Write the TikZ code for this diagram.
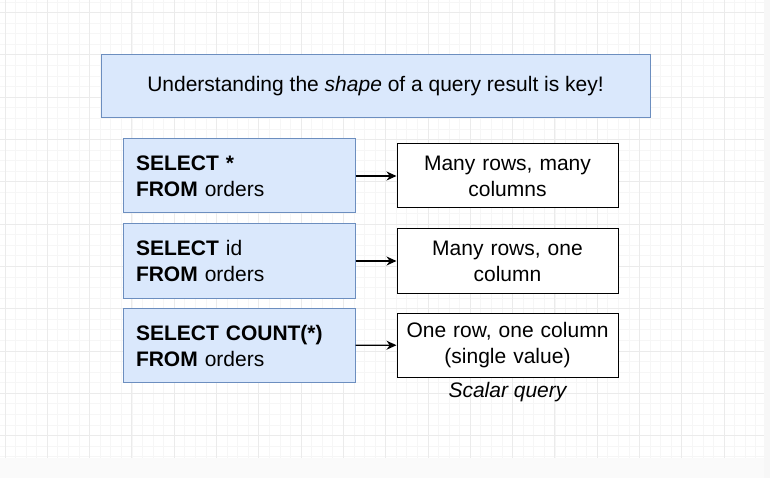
\documentclass[tikz,border=0pt]{standalone}
\usepackage{fontspec}
\setmainfont{Liberation Sans}
\usetikzlibrary{positioning,arrows.meta}
\definecolor{qfill}{HTML}{DAE8FC}
\definecolor{qline}{HTML}{6C8EBF}
\definecolor{gridmin}{HTML}{F6F6F6}
\definecolor{gridmaj}{HTML}{EBEBEB}
\newcommand{\taille}{\fontsize{21}{26}\selectfont}
\tikzset{
	query/.style={draw=qline, fill=qfill, minimum width=232pt, minimum height=74pt,
		text width=206pt, align=left, inner sep=0pt, font=\taille},
	result/.style={draw=black, fill=white, minimum width=221pt, minimum height=64pt,
		text width=210pt, align=center, inner sep=0pt, font=\taille},
	fleche/.style={draw=black, line width=1.2pt, -{Stealth[length=10pt,width=9pt]}}
}

\begin{document}
\begin{tikzpicture}[x=1pt, y=-1pt, line width=1pt]
\useasboundingbox (0,0) rectangle (770,478);
%Grid
	\foreach \k in {-2,...,72}
		\draw[gridmin, line width=0.6pt] (0,{12.5+10.575*\k}) -- (770,{12.5+10.575*\k});
	\foreach \k in {-70,...,6}
		\draw[gridmin, line width=0.6pt] ({724+10.575*\k},0) -- ({724+10.575*\k},478);
	\foreach \k in {0,...,11}
		\draw[gridmaj, line width=0.8pt] (0,{12.5+42.3*\k}) -- (770,{12.5+42.3*\k});
	\foreach \k in {-18,...,1}
		\draw[gridmaj, line width=0.8pt] ({724+42.3*\k},0) -- ({724+42.3*\k},478);
	\fill[gray!4] (0,458) rectangle (770,478);
	\fill[gray!6] (764,0) rectangle (770,478);
%Title
	\node[draw=qline, fill=qfill, minimum width=549pt, minimum height=63pt, font=\taille]
		(titre) at (375.5,86.5) {Understanding the \textit{shape} of a query result is key!};
%Queries
	\node[query] (q1) at (239,176) {\textbf{SELECT *}\\\textbf{FROM} orders};
	\node[query] (q2) at (239,261) {\textbf{SELECT} id\\\textbf{FROM} orders};
	\node[query] (q3) at (239,345.5) {\textbf{SELECT COUNT(*)}\\\textbf{FROM} orders};
%Results
	\node[result] (r1) at (507.5,176) {Many rows, many\\columns};
	\node[result] (r2) at (507.5,261) {Many rows, one\\column};
	\node[result] (r3) at (507.5,345) {One row, one column\\(single value)};
	\node[below=4pt of r3, font=\taille\itshape, inner sep=0pt] (scalaire) {Scalar query};
%Arrows
	\draw[fleche] (q1) -- (r1);
	\draw[fleche] (q2) -- (r2);
	\draw[fleche] (q3) -- (r3);
\end{tikzpicture}
\end{document}
